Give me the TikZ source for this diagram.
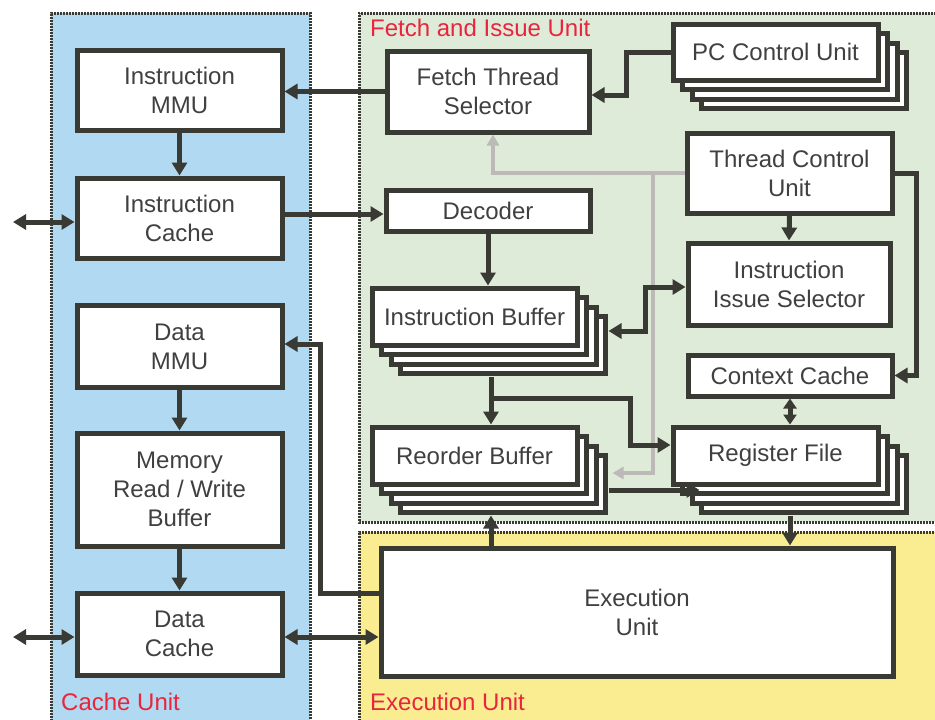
\documentclass[tikz,border=0pt]{standalone}
\usepackage{fontspec}
\setmainfont{Liberation Sans}
\usepackage{tikz}
\usetikzlibrary{arrows.meta}
\usepackage{xcolor}

\definecolor{cacheblue}{HTML}{B1D9F1}
\definecolor{fetchgreen}{HTML}{DFEBD9}
\definecolor{execyellow}{HTML}{FAED91}
\definecolor{linegray}{HTML}{3A3A35}
\definecolor{textgray}{HTML}{404040}
\definecolor{ctrlgray}{HTML}{BDB9B7}
\definecolor{unitred}{HTML}{E8253C}

\tikzset{
  unit/.style={draw=linegray, line width=3pt, dash pattern=on 2pt off 1pt},
  unitlabel/.style={text=unitred, anchor=west, inner sep=0pt},
  boxline/.style={draw=linegray, line width=5pt},
  block/.style={boxline, fill=white, text=textgray, align=center, inner sep=0pt},
  arr/.style={draw=linegray, line width=5pt, -{Triangle[length=13pt,width=15pt]}},
  dbl/.style={draw=linegray, line width=5pt, {Triangle[length=13pt,width=15pt]}-{Triangle[length=13pt,width=15pt]}},
  sdbl/.style={draw=linegray, line width=5pt, {Triangle[length=10pt,width=13pt]}-{Triangle[length=10pt,width=13pt]}},
  ctrl/.style={draw=ctrlgray, line width=4pt, -{Triangle[length=11pt,width=12pt]}}
}

\begin{document}
\begin{tikzpicture}[x=1pt, y=-1pt, font=\fontsize{24}{29}\selectfont]
\useasboundingbox (0,0) rectangle (935,720);

% units
\fill[cacheblue] (51,13) rectangle (310,730);
\draw[unit] (51,730) -- (51,13) -- (310,13) -- (310,730);
\fill[fetchgreen] (359,13) rectangle (945,522);
\draw[unit] (945,13) -- (359,13) -- (359,522) -- (945,522);
\fill[execyellow] (359,532) rectangle (945,730);
\draw[unit] (359,730) -- (359,532) -- (945,532);

\node[unitlabel] (cul) at (61,702) {Cache Unit};
\node[unitlabel] (ful) at (370,28) {Fetch and Issue Unit};
\node[unitlabel] (eul) at (370,702) {Execution Unit};

% stacked copies behind the multi-thread blocks
\foreach \cx/\cy/\w/\h in {775.5/52/205/56, 474.5/316.5/205/57, 474.5/455.5/205/57, 775.5/455.5/205/57}
	\foreach \k in {3,2,1}
		\draw[boxline, fill=white] (\cx-\w/2+\k*9.5, \cy-\h/2+\k*9.5) rectangle +(\w,\h);

% cache unit
\node[block, minimum width=205pt, minimum height=80pt] (immu) at (179.5,90) {Instruction\\MMU};
\node[block, minimum width=205pt, minimum height=80pt] (icache) at (179.5,218) {Instruction\\Cache};
\node[block, minimum width=205pt, minimum height=82pt] (dmmu) at (179.5,346.5) {Data\\MMU};
\node[block, minimum width=205pt, minimum height=113pt] (mrwb) at (179.5,489.5) {Memory\\Read / Write\\Buffer};
\node[block, minimum width=205pt, minimum height=82pt] (dcache) at (179.5,634) {Data\\Cache};

% fetch and issue unit
\node[block, minimum width=202pt, minimum height=81pt] (fts) at (488,91.5) {Fetch Thread\\Selector};
\node[block, minimum width=205pt, minimum height=56pt] (pcu) at (775.5,52) {PC Control Unit};
\node[block, minimum width=205pt, minimum height=80pt] (tcu) at (789.5,173) {Thread Control\\Unit};
\node[block, minimum width=204pt, minimum height=41pt] (dec) at (488,210.5) {Decoder};
\node[block, minimum width=202pt, minimum height=82pt] (iis) at (789,284) {Instruction\\Issue Selector};
\node[block, minimum width=204pt, minimum height=41pt] (ctx) at (790,375.5) {Context Cache};
\node[block, minimum width=205pt, minimum height=57pt] (ib) at (474.5,316.5) {Instruction Buffer};
\node[block, minimum width=205pt, minimum height=57pt] (rob) at (474.5,455.5) {Reorder Buffer};
\node[block, minimum width=205pt, minimum height=57pt] (rf) at (775.5,455.5) {Register File};

% execution unit
\node[block, minimum width=512pt, minimum height=128pt] (exu) at (637,612) {Execution\\Unit};

% outside ends and stack corners
\coordinate (iext) at (13,222);
\coordinate (dext) at (13,637);
\coordinate (ibb) at ([xshift=16.5pt,yshift=-29pt]ib.south);
\coordinate (robb) at ([xshift=16.5pt,yshift=-29pt]rob.south);
\coordinate (rfb) at ([xshift=14.5pt,yshift=-29pt]rf.south);
\coordinate (split) at ([yshift=-22pt]ibb);

% control (gray)
\draw[ctrl] (tcu.west) -| ([xshift=5pt]fts.south);
\draw[ctrl] ([xshift=-32pt]tcu.west) |- ([xshift=33pt,yshift=-17.5pt]rob.east);

% data paths
\draw[arr] (fts.west) -- (fts.west -| immu.east);
\draw[arr] (pcu.west) -- ++(-44,0) |- ([yshift=-3.5pt]fts.east);
\draw[arr] (immu.south) -- (icache.north);
\draw[dbl] (iext) -- (iext -| icache.west);
\draw[arr] ([yshift=4pt]icache.east) -- ([yshift=4pt]icache.east -| dec.west);
\draw[arr] (dec.south) -- (dec.south |- ib.north);
\draw[dbl] ([xshift=29pt,yshift=-14.5pt]ib.east) -- ++(37,0) |- ([yshift=-3pt]iis.west);
\draw[arr] (tcu.south) -- (iis.north);
\draw[arr] (tcu.east) -- ++(22,0) |- (ctx.east);
\draw[sdbl] (ctx.south) -- (ctx.south |- rf.north);
\draw[arr] (ibb) -- (ibb |- rob.north);
\draw[arr] (split) -- ++(139,0) |- ([yshift=10.5pt]rf.west);
\draw[arr] ([xshift=29pt,yshift=-34.5pt]rob.east) -- ([xshift=29pt,yshift=-34.5pt]rob.east -| rf.west);
\draw[arr] (rfb) -- (rfb |- exu.north);
\draw[arr] (robb |- exu.north) -- (robb);
\draw[arr] ([yshift=19pt]exu.west) -- ++(-58,0) |- ([yshift=2.5pt]dmmu.east);
\draw[dbl] ([yshift=-3pt]dcache.east) -- ([yshift=-3pt]dcache.east -| exu.west);
\draw[dbl] (dext) -- (dext -| dcache.west);
\draw[arr] (dmmu.south) -- (mrwb.north);
\draw[arr] (mrwb.south) -- (dcache.north);
\end{tikzpicture}
\end{document}
